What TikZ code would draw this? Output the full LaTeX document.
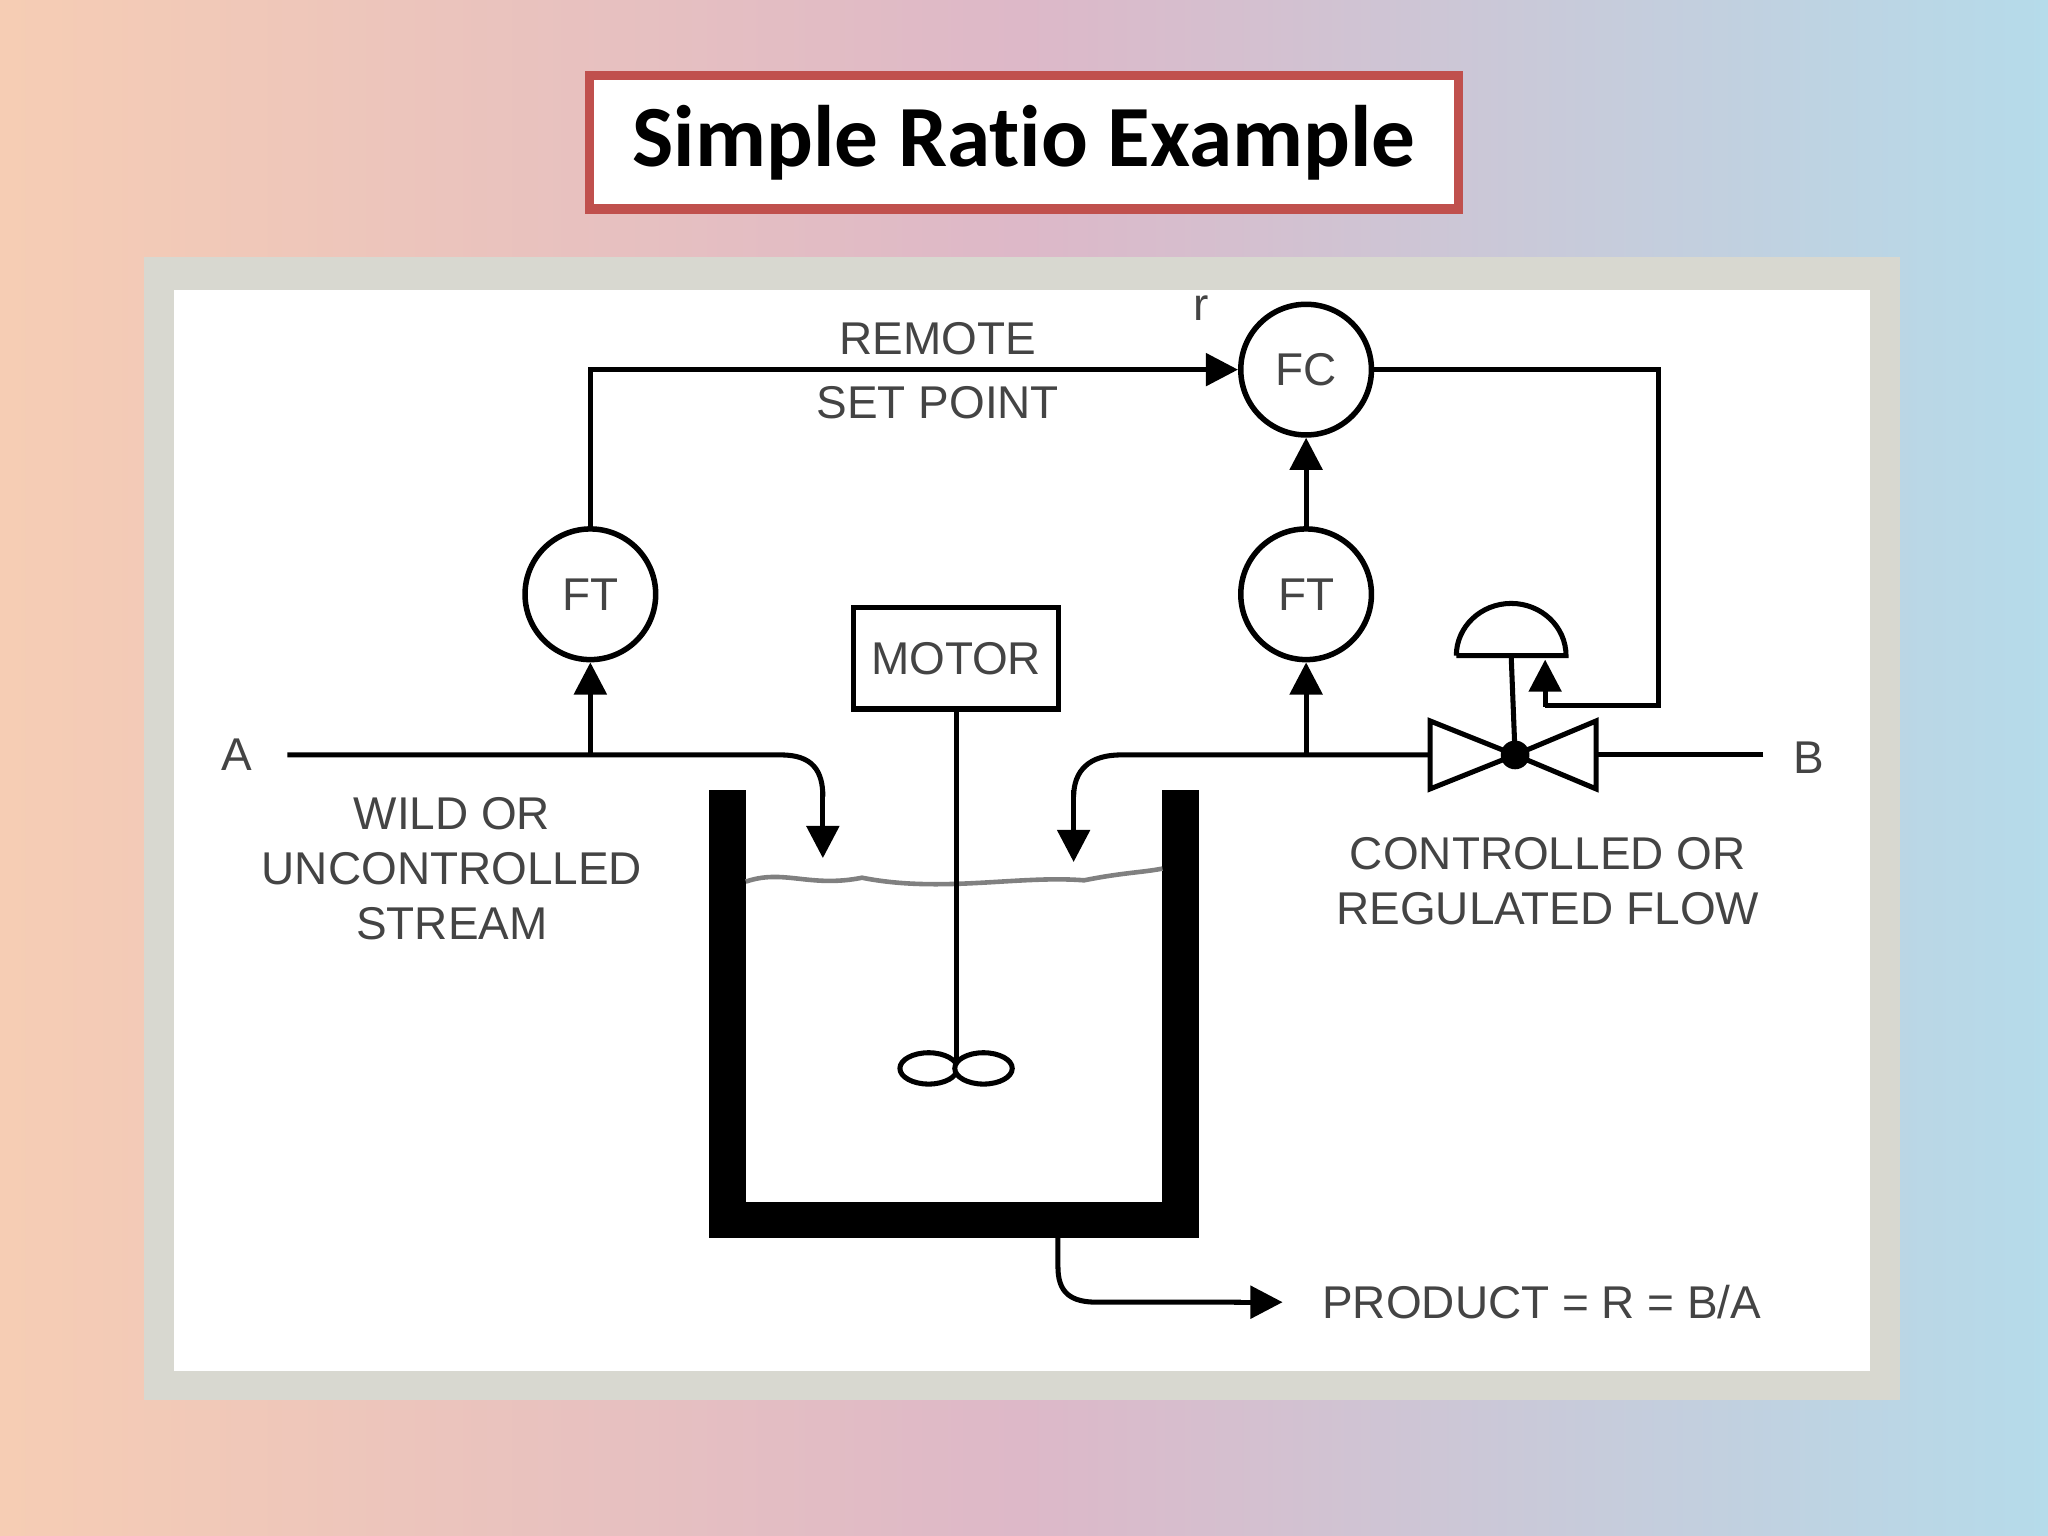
\documentclass[tikz,border=0pt]{standalone}
\usepackage{fontspec}
\setmainfont{Liberation Sans}
\newfontfamily\titlefont[Ligatures=NoCommon,Contextuals=NoAlternate]{Carlito}
\usetikzlibrary{arrows.meta,shapes.geometric}
\definecolor{txt}{HTML}{444444}
\definecolor{bgl}{HTML}{F6CDB4}
\definecolor{bgm}{HTML}{DDB8C8}
\definecolor{bgr}{HTML}{B5DBEA}
\definecolor{frame}{HTML}{D8D8D0}
\definecolor{tred}{HTML}{C0504D}
\begin{document}
\begin{tikzpicture}[x=0.01cm,y=-0.01cm,
  inst/.style={circle,draw,line width=1.2pt,minimum size=1cm,inner sep=0pt,font=\fontsize{10}{12}\selectfont,text=txt},
  lbl/.style={font=\fontsize{10}{12}\selectfont,text=txt,align=center},
  ln/.style={line width=1.1pt},
  arr/.style={ln,-{Triangle[length=7pt,width=7pt]}}]
\useasboundingbox (0,0) rectangle (1568,1176);
\shade[left color=bgl,right color=bgr,middle color=bgm] (0,0) rectangle (1568,1176);
\node[draw=tred,line width=2pt,fill=white,minimum width=6.65cm,minimum height=1.02cm,font=\titlefont\bfseries\fontsize{19}{22}\selectfont] (title) at (784,109) {Simple Ratio Example};
\fill[frame] (110,197) rectangle (1455,1072);
\fill[white] (133,222) rectangle (1432,1050);
% instruments
\node[inst] (fc) at (1000,283) {FC};
\node[inst] (ftl) at (452,455) {FT};
\node[inst] (ftr) at (1000,455) {FT};
\node[draw,line width=1.2pt,minimum width=1.57cm,minimum height=0.78cm,inner sep=0pt,font=\fontsize{10}{12}\selectfont,text=txt] (motor) at (732,504) {MOTOR};
\node[lbl] (rsp) at (718,284) {REMOTE\\[2pt]SET POINT};
\node[lbl] (r) at (920,236) {r};
\node[lbl] (a) at (181,578) {A};
\node[lbl] (b) at (1385,580) {B};
\node[lbl] (wild) at (346,665) {WILD OR\\UNCONTROLLED\\STREAM};
\node[lbl] (ctl) at (1185,675) {CONTROLLED OR\\REGULATED FLOW};
\node[lbl,anchor=west] (prod) at (1000,997) {PRODUCT = R = B/A};
% coordinates
\coordinate (aS) at (220,578);
\coordinate (aT) at (452,578);
\coordinate (aIn) at (630,657);
\coordinate (bS) at (1350,578);
\coordinate (bT) at (1000,578);
\coordinate (bIn) at (822,660);
\coordinate (vc) at (1160,578);
\coordinate (act) at (1157,502);
\coordinate (pS) at (810,948);
\coordinate (pE) at (982,997);
% lines
\draw[ln] (aS) -- (598,578) .. controls (622,578) and (630,590) .. (630,610);
\draw[arr] (630,605) -- (aIn);
\draw[arr] (aT) -- (ftl.south);
\draw[arr] (ftl.north) |- (fc.west);
\draw[arr] (ftr.north) -- (fc.south);
\draw[arr] (bT) -- (ftr.south);
\draw[ln] (bS) -- (1222,578);
\draw[ln] (1095,578) -- (858,578) .. controls (834,578) and (822,590) .. (822,610);
\draw[arr] (822,605) -- (bIn);
\draw[ln] (fc.east) -- (1270,283) -- (1270,540) -- (1183,540);
\draw[arr] (1183,541) -- (1183,505);
% valve
\draw[ln,fill=white] (1095,552) -- (1095,604) -- (vc) -- cycle;
\draw[ln,fill=white] (1222,552) -- (1222,604) -- (vc) -- cycle;
\fill (vc) circle (11);
\draw[ln] (vc) -- (act);
\draw[ln] (1115,502) -- (1199,502) arc[start angle=0,end angle=-180,x radius=42,y radius=40];
% tank
\fill (543,605) rectangle (571,948);
\fill (890,605) rectangle (918,948);
\fill (543,920) rectangle (918,948);
\draw[gray,line width=1pt] (571,675) .. controls (600,665) and (620,680) .. (660,672) .. controls (720,684) and (780,670) .. (830,674) .. controls (860,668) and (875,668) .. (890,665);
\draw[ln] (motor.south) -- (732,815);
\draw[ln,fill=white] (711,818) ellipse (22 and 12);
\draw[ln,fill=white] (753,818) ellipse (22 and 12);
\draw[ln] (pS) -- (810,970) .. controls (810,990) and (820,997) .. (840,997) -- (950,997);
\draw[arr] (945,997) -- (pE);
\end{tikzpicture}
\end{document}
